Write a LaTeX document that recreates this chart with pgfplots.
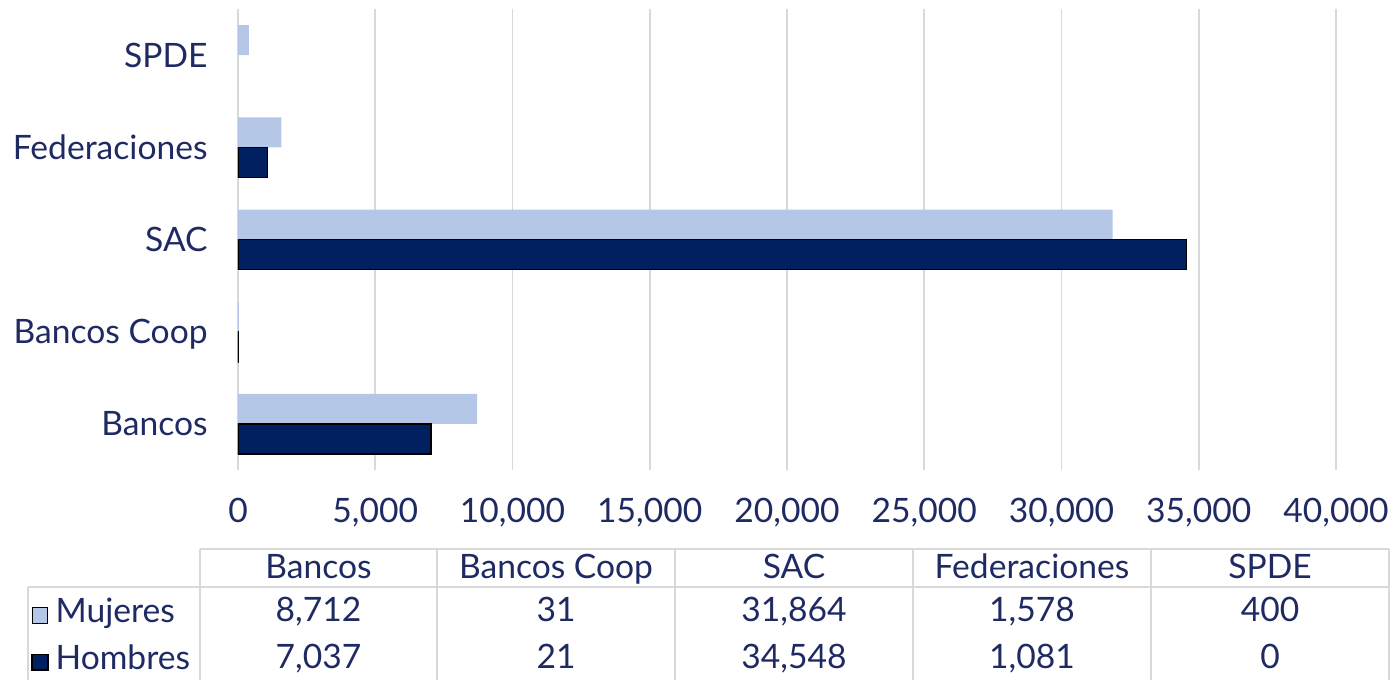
\documentclass[border=0pt]{standalone}
\usepackage{pgfplots}
\pgfplotsset{compat=1.18}
\usepackage{fontspec}
\setmainfont{Lato}
\definecolor{txt}{RGB}{31,42,99}
\definecolor{muj}{RGB}{180,199,231}
\definecolor{hom}{RGB}{0,32,96}
\definecolor{grd}{RGB}{217,217,217}
\newcommand{\f}{\fontsize{16.8}{20}\selectfont}
\begin{document}
\begin{tikzpicture}
\path[use as bounding box] (0,0) rectangle (696pt,-340pt);
\begin{axis}[
  at={(119pt,-235pt)}, anchor=south west,
  scale only axis, width=549pt, height=230.5pt,
  xbar, bar width=15pt,
  xmin=0, xmax=40000, ymin=-0.5, ymax=4.5,
  xtick={0,5000,...,40000},
  ytick={0,...,4},
  yticklabels={Bancos,Bancos Coop,SAC,Federaciones,SPDE},
  xmajorgrids, grid style={grd, line width=0.8pt},
  axis line style={draw=none}, major tick length=0,
  /pgf/number format/1000 sep={,},
  /pgf/number format/assume math mode=true,
  scaled x ticks=false,
  ticklabel style={font=\f, text=txt, inner sep=0pt},
  xticklabel style={anchor=base, yshift=-26pt},
  yticklabel style={anchor=base east, xshift=-15pt, yshift=-6pt},
  legend image code/.code={\draw[#1] (0pt,-3.9pt) rectangle (7.8pt,3.9pt);},
  legend style={at={(-0.1885,-0.2735)}, anchor=north west, draw=none, fill=none,
    font=\f, text=txt, row sep=4.5pt, inner sep=0pt,
    nodes={text height=11pt, text depth=4pt, inner sep=2pt},
    /tikz/every odd column/.append style={column sep=1.5pt}},
  legend cell align=left,
]
\addplot[fill=muj, draw=none, bar shift=7.5pt] coordinates {(8712,0) (31,1) (31864,2) (1578,3) (400,4)};
\addlegendentry{Mujeres}
\addplot[fill=hom, draw=black, line width=0.8pt, bar shift=-7.5pt, restrict x to domain=1:100000] coordinates {(7037,0) (21,1) (34548,2) (1081,3) (0,4)};
\addlegendentry{Hombres}
\end{axis}
\begin{scope}[x=0.5pt,y=-0.5pt]
\draw[grd, line width=0.8pt] (200,549) -- (1389,549);
\draw[grd, line width=0.8pt] (28,587) -- (1389,587);
\foreach \xx in {200,437,675,913,1151,1389} {\draw[grd, line width=0.8pt] (\xx,549) -- (\xx,680);}
\draw[grd, line width=0.8pt] (28,587) -- (28,680);
\tikzset{tt/.style={font=\f, text=txt, anchor=base, inner sep=0pt}}
\node[tt] at (318.5,578.5) {Bancos};
\node[tt] at (556,578.5) {Bancos Coop};
\node[tt] at (794,578.5) {SAC};
\node[tt] at (1032,578.5) {Federaciones};
\node[tt] at (1270,578.5) {SPDE};
\node[tt] at (318.5,621.5) {8,712};
\node[tt] at (556,621.5) {31};
\node[tt] at (794,621.5) {31,864};
\node[tt] at (1032,621.5) {1,578};
\node[tt] at (1270,621.5) {400};
\node[tt] at (318.5,668.5) {7,037};
\node[tt] at (556,668.5) {21};
\node[tt] at (794,668.5) {34,548};
\node[tt] at (1032,668.5) {1,081};
\node[tt] at (1270,668.5) {0};
\end{scope}
\end{tikzpicture}
\end{document}
